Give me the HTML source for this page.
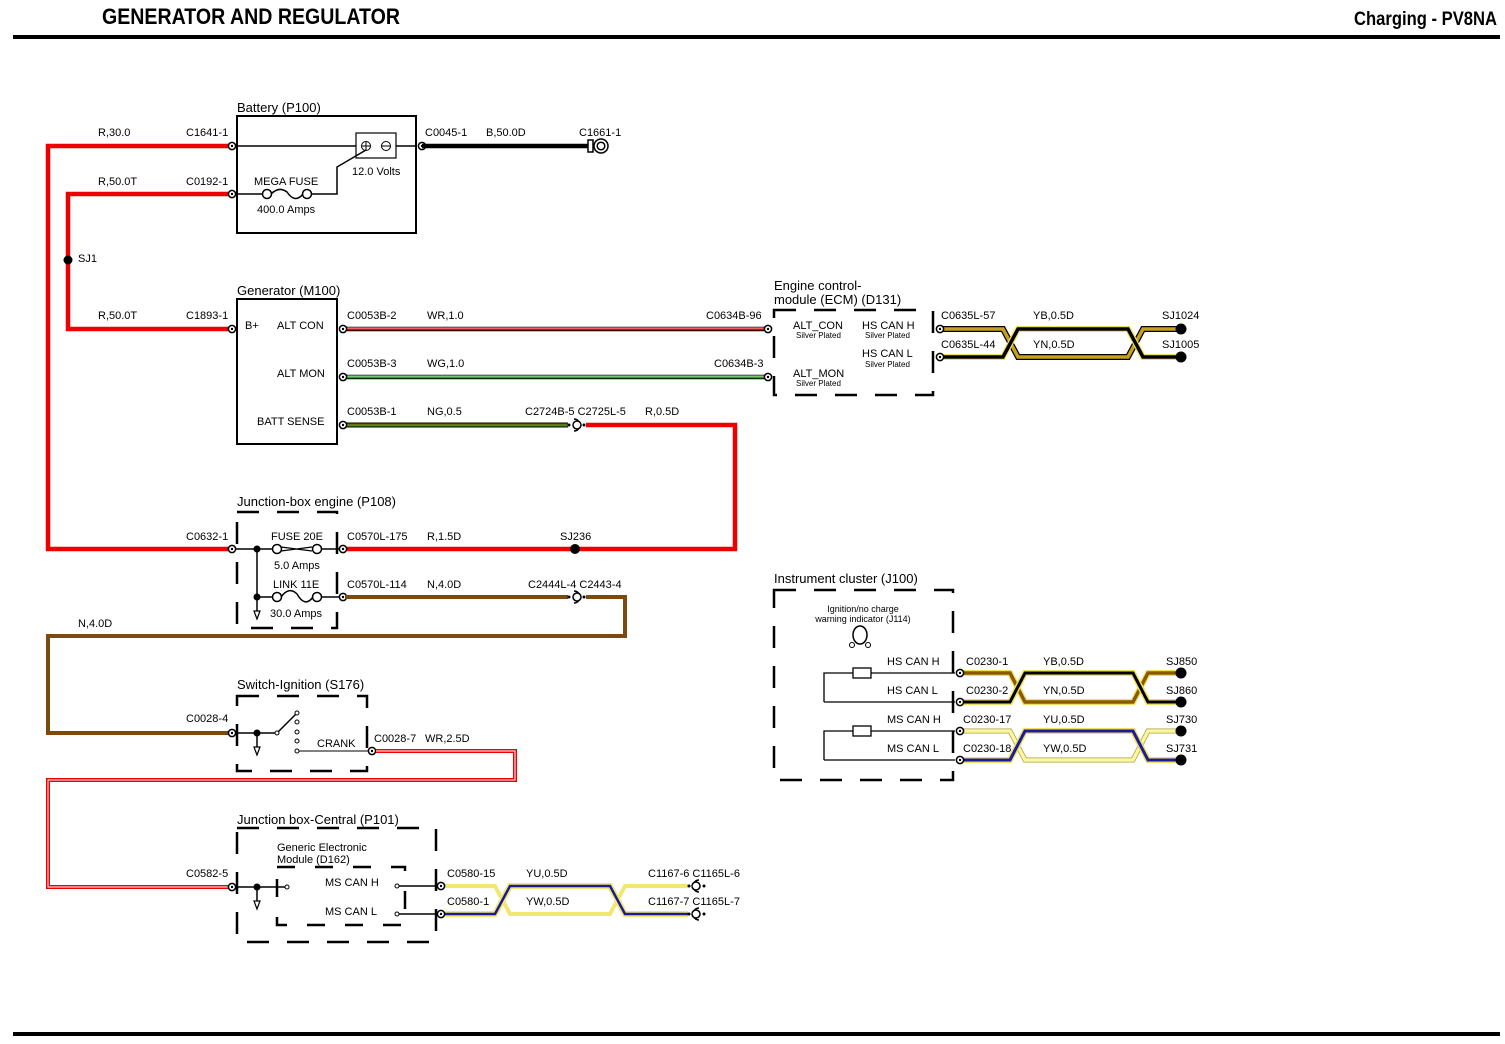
<!DOCTYPE html>
<html><head><meta charset="utf-8"><style>
html,body{margin:0;padding:0;background:#fff}
svg{display:block}
text{font-family:"Liberation Sans",Arial,sans-serif;font-size:11px;fill:#000}
.t{font-size:13px}
.s{font-size:8px}
.h{font-family:"Liberation Sans Narrow","Liberation Sans",sans-serif;font-weight:bold;font-size:22px}
.d{fill:none;stroke:#000;stroke-width:2.5;stroke-dasharray:22 18}
</style></head><body>
<svg width="1505" height="1044" viewBox="0 0 1505 1044" xmlns="http://www.w3.org/2000/svg">
<defs>
<g id="c"><circle r="3.6" fill="#fff" stroke="#000" stroke-width="1.5"/><circle r="1.2" fill="#000"/></g>
<g id="cc"><path d="M-2,-6 A6,6 0 0 1 -2,6" fill="none" stroke="#000" stroke-width="1.5"/><circle cx="1" r="4" fill="#fff" stroke="#000" stroke-width="1.5"/><circle cx="-7" r="1.5"/><circle cx="8" r="1.5"/></g>
<g id="g"><line x1="0" y1="0" x2="0" y2="14" stroke="#000" stroke-width="1.5"/><path d="M-3,14 L3,14 L0,22 Z" fill="#fff" stroke="#000" stroke-width="1.2"/></g>
</defs>
<!-- header -->
<text x="102" y="24" class="h" textLength="298" lengthAdjust="spacingAndGlyphs">GENERATOR AND REGULATOR</text>
<text x="1354" y="25" class="h" style="font-size:19px" textLength="143" lengthAdjust="spacingAndGlyphs">Charging - PV8NA</text>
<rect x="13" y="35" width="1487" height="4" fill="#000"/>
<rect x="13" y="1032" width="1487" height="4" fill="#000"/>

<!-- red feeds -->
<path d="M232,146 H48 V549 H232" fill="none" stroke="#e00" stroke-width="4.5"/>
<path d="M232,194 H68 V329 H232" fill="none" stroke="#e00" stroke-width="4.5"/>
<circle cx="68" cy="260" r="4.5"/>
<text x="78" y="262">SJ1</text>
<text x="98" y="136">R,30.0</text><text x="186" y="136">C1641-1</text>
<text x="98" y="185">R,50.0T</text><text x="186" y="185">C0192-1</text>
<text x="98" y="319">R,50.0T</text><text x="186" y="319">C1893-1</text>
<text x="186" y="540">C0632-1</text>

<!-- battery -->
<text x="237" y="112" class="t">Battery (P100)</text>
<rect x="237" y="116" width="179" height="117" fill="none" stroke="#000" stroke-width="2"/>
<path d="M237,146 H356 M396,146 H416" stroke="#000" stroke-width="1.5"/>
<rect x="356" y="133" width="40" height="25" fill="#fff" stroke="#000" stroke-width="1.2"/>
<circle cx="366" cy="146" r="4.5" fill="#fff" stroke="#000"/><path d="M362,146H370M366,142V150M382,146H390" stroke="#000"/>
<circle cx="386" cy="146" r="4.5" fill="#fff" stroke="#000"/><path d="M382,146H390" stroke="#000"/>
<text x="352" y="175">12.0 Volts</text>
<path d="M237,194 H262 M312,194 H337 V167 L366,150" fill="none" stroke="#000" stroke-width="1.5"/>
<circle cx="267" cy="194" r="4.5" fill="#fff" stroke="#000" stroke-width="1.5"/>
<circle cx="307" cy="194" r="4.5" fill="#fff" stroke="#000" stroke-width="1.5"/>
<path d="M271,194 Q279,186 287,192 Q295,204 303,194" fill="none" stroke="#000" stroke-width="1.5"/>
<text x="254" y="185">MEGA FUSE</text><text x="257" y="213">400.0 Amps</text>
<use href="#c" x="232" y="146"/><use href="#c" x="232" y="194"/>
<use href="#c" x="422" y="146"/>
<line x1="422" y1="146" x2="590" y2="146" stroke="#000" stroke-width="4.5"/>
<rect x="588" y="140" width="5" height="12" fill="#fff" stroke="#000" stroke-width="1.5"/>
<circle cx="601" cy="146" r="7" fill="#fff" stroke="#000" stroke-width="1.5"/><circle cx="601" cy="146" r="3.8" fill="#fff" stroke="#000" stroke-width="1.5"/>
<text x="425" y="136">C0045-1</text><text x="486" y="136">B,50.0D</text><text x="579" y="136">C1661-1</text>

<!-- generator -->
<text x="237" y="295" class="t">Generator (M100)</text>
<rect x="237" y="299" width="100" height="145" fill="none" stroke="#000" stroke-width="2"/>
<text x="245" y="329">B+</text><text x="277" y="329">ALT CON</text>
<text x="277" y="377">ALT MON</text><text x="257" y="425">BATT SENSE</text>
<use href="#c" x="232" y="329"/>
<path d="M345,329 H765" stroke="#000" stroke-width="4.5"/><path d="M345,329 H765" stroke="#e00" stroke-width="2.5"/><path d="M345,328 H765" stroke="#fff" stroke-width="0.8"/>
<path d="M345,377 H765" stroke="#000" stroke-width="4.5"/><path d="M345,377 H765" stroke="#2a2" stroke-width="2.5"/><path d="M345,376 H765" stroke="#fff" stroke-width="0.8"/>
<path d="M345,425 H568" stroke="#000" stroke-width="5"/><path d="M345,425 H568" stroke="#4a8a20" stroke-width="3"/><path d="M345,424 H568" stroke="#7a5a10" stroke-width="1"/>
<use href="#c" x="343" y="329"/><use href="#c" x="343" y="377"/><use href="#c" x="343" y="425"/>
<use href="#cc" x="576" y="425"/>
<text x="347" y="319">C0053B-2</text><text x="427" y="319">WR,1.0</text><text x="706" y="319">C0634B-96</text>
<text x="347" y="367">C0053B-3</text><text x="427" y="367">WG,1.0</text><text x="714" y="367">C0634B-3</text>
<text x="347" y="415">C0053B-1</text><text x="427" y="415">NG,0.5</text><text x="525" y="415">C2724B-5 C2725L-5</text><text x="645" y="415">R,0.5D</text>
<path d="M586,425 H735 V549 H345" fill="none" stroke="#e00" stroke-width="4.5"/>
<circle cx="575" cy="549" r="5"/>
<text x="560" y="540">SJ236</text>
<text x="347" y="540">C0570L-175</text><text x="427" y="540">R,1.5D</text>
<use href="#c" x="768" y="329"/><use href="#c" x="768" y="377"/>

<!-- ECM -->
<text x="774" y="290" class="t">Engine control-</text><text x="774" y="304" class="t">module (ECM) (D131)</text>
<rect x="774" y="310" width="159" height="85" class="d"/>
<text x="793" y="329">ALT_CON</text><text x="796" y="338" class="s">Silver Plated</text>
<text x="793" y="377">ALT_MON</text><text x="796" y="386" class="s">Silver Plated</text>
<text x="862" y="329">HS CAN H</text><text x="865" y="338" class="s">Silver Plated</text>
<text x="862" y="357">HS CAN L</text><text x="865" y="367" class="s">Silver Plated</text>
<path d="M940,329 H1003 L1018,357 H1128 L1143,329 H1181" fill="none" stroke="#000" stroke-width="6"/>
<path d="M940,329 H1003 L1018,357 H1128 L1143,329 H1181" fill="none" stroke="#c8a020" stroke-width="3.5"/>
<path d="M940,357 H1003 L1018,329 H1128 L1143,357 H1181" fill="none" stroke="#f0e060" stroke-width="6"/>
<path d="M940,357 H1003 L1018,329 H1128 L1143,357 H1181" fill="none" stroke="#000" stroke-width="3.5"/>
<use href="#c" x="940" y="329"/><use href="#c" x="940" y="357"/>
<circle cx="1181" cy="329" r="5.5"/><circle cx="1181" cy="357" r="5.5"/>
<text x="941" y="319">C0635L-57</text><text x="1033" y="319">YB,0.5D</text><text x="1162" y="319">SJ1024</text>
<text x="941" y="348">C0635L-44</text><text x="1033" y="348">YN,0.5D</text><text x="1162" y="348">SJ1005</text>

<!-- junction box engine -->
<text x="237" y="506" class="t">Junction-box engine (P108)</text>
<rect x="237" y="512" width="100" height="116" class="d"/>
<use href="#c" x="232" y="549"/>
<path d="M236,549 H272 M257,549 V597 H272" fill="none" stroke="#000" stroke-width="1.5"/>
<use href="#g" x="257" y="597"/>
<circle cx="257" cy="549" r="3.5"/><circle cx="257" cy="597" r="3.5"/>
<circle cx="277" cy="549" r="4.5" fill="#fff" stroke="#000" stroke-width="1.5"/><circle cx="317" cy="549" r="4.5" fill="#fff" stroke="#000" stroke-width="1.5"/>
<path d="M281,547 L312,551 M281,551 L312,547" stroke="#000" stroke-width="1.2"/>
<path d="M322,549 H340" stroke="#000" stroke-width="1.5"/>
<circle cx="277" cy="597" r="4.5" fill="#fff" stroke="#000" stroke-width="1.5"/><circle cx="317" cy="597" r="4.5" fill="#fff" stroke="#000" stroke-width="1.5"/>
<path d="M281,597 Q289,586 297,594 Q305,608 313,597" fill="none" stroke="#000" stroke-width="1.5"/>
<path d="M322,597 H340" stroke="#000" stroke-width="1.5"/>
<text x="271" y="540">FUSE 20E</text><text x="274" y="569">5.0 Amps</text>
<text x="273" y="588">LINK 11E</text><text x="270" y="617">30.0 Amps</text>
<use href="#c" x="343" y="549"/><use href="#c" x="343" y="597"/>
<path d="M345,597 H568 M586,597 H625 V636 H48 V733 H232" fill="none" stroke="#7a4a10" stroke-width="4"/>
<use href="#cc" x="576" y="597"/>
<text x="347" y="588">C0570L-114</text><text x="427" y="588">N,4.0D</text><text x="528" y="588">C2444L-4 C2443-4</text>
<text x="78" y="627">N,4.0D</text>

<!-- ignition switch -->
<text x="237" y="689" class="t">Switch-Ignition (S176)</text>
<rect x="237" y="696" width="130" height="75" class="d"/>
<use href="#c" x="232" y="733"/>
<path d="M236,733 H277 L296,714" fill="none" stroke="#000" stroke-width="1.5"/>
<circle cx="257" cy="733" r="3.5"/><use href="#g" x="257" y="733"/>
<circle cx="277" cy="733" r="2" fill="#fff" stroke="#000"/>
<circle cx="297" cy="713" r="2" fill="#fff" stroke="#000"/><circle cx="297" cy="722" r="2" fill="#fff" stroke="#000"/><circle cx="297" cy="732" r="2" fill="#fff" stroke="#000"/><circle cx="297" cy="741" r="2" fill="#fff" stroke="#000"/><circle cx="297" cy="751" r="2" fill="#fff" stroke="#000"/>
<path d="M299,751 H368" stroke="#000" stroke-width="1"/>
<text x="317" y="747">CRANK</text>
<use href="#c" x="372" y="751"/>
<text x="374" y="742">C0028-7</text><text x="425" y="742">WR,2.5D</text>
<path d="M376,751 H515 V780 H48 V887 H232" fill="none" stroke="#e00" stroke-width="4"/>
<path d="M376,751 H515 V780 H48 V887 H232" fill="none" stroke="#fff" stroke-width="1"/>
<text x="186" y="722">C0028-4</text>

<!-- junction box central -->
<text x="237" y="824" class="t">Junction box-Central (P101)</text>
<rect x="237" y="828" width="199" height="114" class="d"/>
<rect x="277" y="867" width="128" height="58" class="d" style="stroke-dasharray:18 20"/>
<text x="277" y="851">Generic Electronic</text><text x="277" y="863">Module (D162)</text>
<use href="#c" x="232" y="887"/>
<text x="186" y="877">C0582-5</text>
<path d="M236,887 H286" stroke="#000" stroke-width="1.5"/>
<circle cx="257" cy="887" r="3.5"/><use href="#g" x="257" y="887"/>
<circle cx="287" cy="887" r="2" fill="#fff" stroke="#000"/>
<text x="325" y="886">MS CAN H</text><text x="325" y="915">MS CAN L</text>
<circle cx="397" cy="886" r="2" fill="#fff" stroke="#000"/><circle cx="397" cy="914" r="2" fill="#fff" stroke="#000"/>
<path d="M399,886 H440 M399,914 H440" stroke="#000" stroke-width="1.5"/>
<path d="M445,886 H495 L510,914 H610 L625,886 H688" fill="none" stroke="#000" stroke-width="1"/>
<path d="M445,886 H495 L510,914 H610 L625,886 H688" fill="none" stroke="#f0e870" stroke-width="4"/>
<path d="M445,914 H495 L510,886 H610 L625,914 H688" fill="none" stroke="#f0e870" stroke-width="6"/>
<path d="M445,914 H495 L510,886 H610 L625,914 H688" fill="none" stroke="#1a1a9a" stroke-width="2.5"/>
<use href="#c" x="441" y="886"/><use href="#c" x="441" y="914"/>
<g transform="translate(697,886) scale(-1,1)"><use href="#cc"/></g>
<g transform="translate(697,914) scale(-1,1)"><use href="#cc"/></g>
<text x="447" y="877">C0580-15</text><text x="526" y="877">YU,0.5D</text><text x="648" y="877">C1167-6 C1165L-6</text>
<text x="447" y="905">C0580-1</text><text x="526" y="905">YW,0.5D</text><text x="648" y="905">C1167-7 C1165L-7</text>

<!-- instrument cluster -->
<text x="774" y="583" class="t">Instrument cluster (J100)</text>
<rect x="774" y="590" width="179" height="190" class="d"/>
<text x="863" y="612" class="s" text-anchor="middle" style="font-size:9px">Ignition/no charge</text>
<text x="863" y="622" class="s" text-anchor="middle" style="font-size:9px">warning indicator (J114)</text>
<ellipse cx="860" cy="635" rx="7" ry="9" fill="none" stroke="#000" stroke-width="1.5"/>
<circle cx="852" cy="645" r="2.5" fill="#fff" stroke="#000"/><circle cx="868" cy="645" r="2.5" fill="#fff" stroke="#000"/>
<path d="M824,702 V673 H853 M871,673 H955 M824,702 H955 M824,760 V731 H853 M871,731 H955 M824,760 H955" fill="none" stroke="#000" stroke-width="1.3"/>
<rect x="853" y="668" width="18" height="10" fill="#fff" stroke="#000" stroke-width="1.3"/>
<rect x="853" y="726" width="18" height="10" fill="#fff" stroke="#000" stroke-width="1.3"/>
<text x="887" y="665">HS CAN H</text><text x="887" y="694">HS CAN L</text>
<text x="887" y="723">MS CAN H</text><text x="887" y="752">MS CAN L</text>
<path d="M960,673 H1010 L1025,702 H1133 L1148,673 H1181" fill="none" stroke="#f0e060" stroke-width="6"/>
<path d="M960,673 H1010 L1025,702 H1133 L1148,673 H1181" fill="none" stroke="#8a5a00" stroke-width="3.5"/>
<path d="M960,702 H1010 L1025,673 H1133 L1148,702 H1181" fill="none" stroke="#f0e060" stroke-width="6"/>
<path d="M960,702 H1010 L1025,673 H1133 L1148,702 H1181" fill="none" stroke="#000" stroke-width="3"/>
<path d="M960,731 H1010 L1025,760 H1133 L1148,731 H1181" fill="none" stroke="#aaa040" stroke-width="5"/>
<path d="M960,731 H1010 L1025,760 H1133 L1148,731 H1181" fill="none" stroke="#fbf6a0" stroke-width="3.5"/>
<path d="M960,760 H1010 L1025,731 H1133 L1148,760 H1181" fill="none" stroke="#f0e060" stroke-width="6"/>
<path d="M960,760 H1010 L1025,731 H1133 L1148,760 H1181" fill="none" stroke="#1a1a9a" stroke-width="3"/>
<use href="#c" x="960" y="673"/><use href="#c" x="960" y="702"/><use href="#c" x="960" y="731"/><use href="#c" x="960" y="760"/>
<circle cx="1181" cy="673" r="5.5"/><circle cx="1181" cy="702" r="5.5"/><circle cx="1181" cy="731" r="5.5"/><circle cx="1181" cy="760" r="5.5"/>
<text x="966" y="665">C0230-1</text><text x="1043" y="665">YB,0.5D</text><text x="1166" y="665">SJ850</text>
<text x="966" y="694">C0230-2</text><text x="1043" y="694">YN,0.5D</text><text x="1166" y="694">SJ860</text>
<text x="963" y="723">C0230-17</text><text x="1043" y="723">YU,0.5D</text><text x="1166" y="723">SJ730</text>
<text x="963" y="752">C0230-18</text><text x="1043" y="752">YW,0.5D</text><text x="1166" y="752">SJ731</text>
</svg>
</body></html>
